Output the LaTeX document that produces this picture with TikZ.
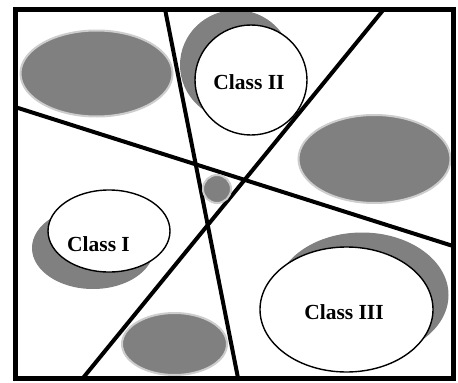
\documentclass[tikz,border=0pt]{standalone}
\usepackage{fontspec}
\setmainfont{Liberation Serif}
\definecolor{blobgray}{RGB}{128,128,128}
\definecolor{rimgray}{RGB}{205,205,205}
\begin{document}
\begin{tikzpicture}[x=1pt,y=-1pt,
  blob/.style={fill=blobgray,draw=rimgray,line width=2pt},
  shadow/.style={fill=blobgray,draw=none},
  classbox/.style={fill=white,draw=black,line width=1.4pt},
  divider/.style={line width=4pt,black},
  label/.style={font=\fontsize{21.5}{24}\selectfont\bfseries,inner sep=0pt}]
\useasboundingbox (0,0) rectangle (458,383);
\fill[white] (0,0) rectangle (458,383);
% frame corners
\coordinate (tl) at (15,9);
\coordinate (br) at (453,378);
% divider end points
\coordinate (a1) at (165,9);
\coordinate (a2) at (238,378);
\coordinate (b1) at (384,9);
\coordinate (b2) at (83,378);
\coordinate (c1) at (15,107);
\coordinate (c2) at (453,246);
% shadows
\fill[shadow] (236,65) ellipse [x radius=56, y radius=55];
\fill[shadow] (93,248) ellipse [x radius=61, y radius=41];
\fill[shadow] (362,295) ellipse [x radius=86.5, y radius=62.5];
% dividers
\draw[divider] (a1) -- (a2);
\draw[divider] (b1) -- (b2);
\draw[divider] (c1) -- (c2);
% gray blobs
\draw[blob] (96.5,73.5) ellipse [x radius=76, y radius=43];
\draw[blob] (374.5,159) ellipse [x radius=76, y radius=44];
\draw[blob] (217,189) circle [radius=14];
\draw[blob] (174.5,344) ellipse [x radius=52.5, y radius=31];
% class ellipses
\draw[classbox] (251,80) ellipse [x radius=56, y radius=55];
\draw[classbox] (109,231) ellipse [x radius=61, y radius=41];
\draw[classbox] (346.5,309.5) ellipse [x radius=86.5, y radius=62.5];
\node[label] (c2lab) at (249,82.5) {Class II};
\node[label] (c1lab) at (98.5,244) {Class I};
\node[label] (c3lab) at (344,312.5) {Class III};
% frame
\draw[line width=5pt] (tl) rectangle (br);
\end{tikzpicture}
\end{document}
